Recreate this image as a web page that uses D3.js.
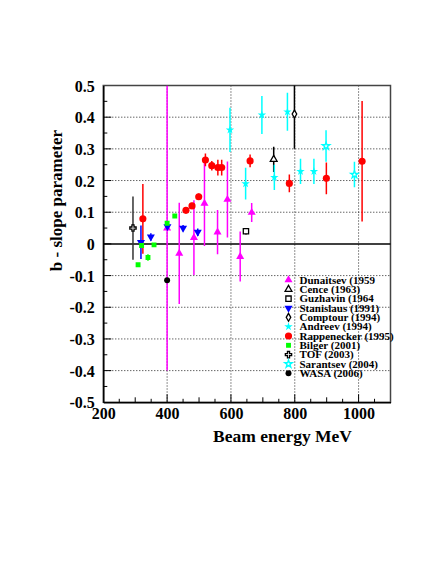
<!DOCTYPE html>
<html>
<head>
<meta charset="utf-8">
<script src="https://cdn.jsdelivr.net/npm/d3@7"></script>
<style>
  html, body { margin: 0; padding: 0; background: #fff; }
  svg { display: block; }
  text { font-family: "Liberation Serif", "Times New Roman", serif; font-weight: bold; fill: #000; }
</style>
</head>
<body>
<svg id="chart" width="436" height="564"></svg>
<script>
// ---- data: [beam energy MeV, b, error] ----
const dunaitsev   = [[400, 0.05, 0.45], [438, -0.03, 0.16], [484, 0.02, 0.118], [517, 0.128, 0.135], [558, 0.037, 0.07], [589, 0.14, 0.12], [629, -0.04, 0.079], [665, 0.099, 0.03]];
const cence       = [[734, 0.267, 0.04]];
const guzhavin    = [[647, 0.04, 0.01]];
const stanislaus  = [[318, 0.005, 0.053], [349, 0.022, 0.012], [401, 0.055, 0.012], [450, 0.05, 0.01], [496, 0.037, 0.012]];
const comptour    = [[799, 0.41, 0.11]];
const andreev     = [[597, 0.36, 0.07], [646, 0.19, 0.05], [697, 0.407, 0.06], [736, 0.21, 0.04], [777, 0.417, 0.06], [818, 0.229, 0.04], [860, 0.229, 0.04]];
const rappenecker = [[324, 0.079, 0.11], [459, 0.106, 0.008], [478, 0.12, 0.01], [499, 0.149, 0.01], [520, 0.265, 0.02], [540, 0.247, 0.015], [559, 0.241, 0.025], [571, 0.241, 0.025], [660, 0.262, 0.02], [783, 0.191, 0.028], [899, 0.207, 0.05], [1011, 0.261, 0.19]];
const bilger      = [[309, -0.066, 0], [320, -0.005, 0.008], [340, -0.043, 0.01], [359, -0.003, 0.005], [400, 0.065, 0.005], [424, 0.088, 0.005]];
const tof         = [[293, 0.05, 0.1]];
const sarantsev   = [[898, 0.309, 0.05], [987, 0.219, 0.04]];
const wasa        = [[400, -0.115, 0]];

const legendLabels = ["Dunaitsev (1959", "Cence (1963)", "Guzhavin (1964", "Stanislaus (1991)", "Comptour (1994)", "Andreev (1994)", "Rappenecker (1995)", "Bilger (2001)", "TOF (2003)", "Sarantsev (2004)", "WASA (2006)"];
const xTickValues = [200, 400, 600, 800, 1000];
const xTickLabels = ["200", "400", "600", "800", "1000"];
const yTickValues = [0.5, 0.4, 0.3, 0.2, 0.1, 0, -0.1, -0.2, -0.3, -0.4, -0.5];
const yTickLabels = ["0.5", "0.4", "0.3", "0.2", "0.1", "0", "-0.1", "-0.2", "-0.3", "-0.4", "-0.5"];
const xTitle = "Beam energy MeV";
const yTitle = "b - slope parameter";

// ---- series styling ----
const series = [
  { data: dunaitsev,   sym: d3.symbolTriangle, size: 28, fill: "#ff00ff", stroke: "none",    err: "#ff00ff", rot: 0 },
  { data: cence,       sym: d3.symbolTriangle, size: 20, fill: "#fff",    stroke: "#000",    err: "#000",    rot: 0 },
  { data: guzhavin,    sym: d3.symbolSquare,   size: 28, fill: "#fff",    stroke: "#000",    err: "#000",    rot: 0 },
  { data: stanislaus,  sym: d3.symbolTriangle, size: 28, fill: "#0000ff", stroke: "none",    err: "#0000ff", rot: 180 },
  { data: comptour,    sym: d3.symbolDiamond,  size: 18, fill: "#fff",    stroke: "#000",    err: "#000",    rot: 0 },
  { data: andreev,     sym: d3.symbolStar,     size: 22, fill: "#00ffff", stroke: "none",    err: "#00ffff", rot: 0 },
  { data: rappenecker, sym: d3.symbolCircle,   size: 40, fill: "#ff0000", stroke: "none",    err: "#ff0000", rot: 0 },
  { data: bilger,      sym: d3.symbolSquare,   size: 24, fill: "#00ff00", stroke: "none",    err: "#00ff00", rot: 0 },
  { data: tof,         sym: d3.symbolCross,    size: 22, fill: "#fff",    stroke: "#000",    err: "#333",    rot: 0 },
  { data: sarantsev,   sym: d3.symbolStar,     size: 18, fill: "#fff",    stroke: "#00ffff", err: "#00ffff", rot: 0 },
  { data: wasa,        sym: d3.symbolCircle,   size: 28, fill: "#000",    stroke: "none",    err: "#000",    rot: 0 }
];

const svg = d3.select("#chart");
const L = 103.3, R = 390.5, T = 85.5, B = 402.3;
const x = d3.scaleLinear().domain([200, 1100]).range([L, R]);
const y = d3.scaleLinear().domain([-0.5, 0.5]).range([B, T]);

svg.append("defs").append("clipPath").attr("id", "clip")
  .append("rect").attr("x", L).attr("y", T).attr("width", R - L).attr("height", B - T);

// grid
const grid = svg.append("g");
grid.selectAll(".gx").data([400, 600, 800, 1000]).join("line")
  .attr("x1", d => x(d)).attr("x2", d => x(d)).attr("y1", T).attr("y2", B)
  .attr("stroke", "#222").attr("stroke-width", 1).attr("stroke-dasharray", "1,2");
grid.selectAll(".gy").data([0.4, 0.3, 0.2, 0.1, -0.1, -0.2, -0.3, -0.4]).join("line")
  .attr("x1", L).attr("x2", R).attr("y1", d => y(d)).attr("y2", d => y(d))
  .attr("stroke", "#222").attr("stroke-width", 1).attr("stroke-dasharray", "1,2");

// frame
svg.append("rect").attr("x", L).attr("y", T).attr("width", R - L).attr("height", B - T)
  .attr("fill", "none").attr("stroke", "#444").attr("stroke-width", 1.5);

// zero line
svg.append("line").attr("x1", L).attr("x2", R).attr("y1", y(0)).attr("y2", y(0))
  .attr("stroke", "#000").attr("stroke-width", 1.5);

// axes
const xAxis = d3.axisBottom(x).tickValues(xTickValues).tickFormat((d, i) => xTickLabels[i]).tickSize(0).tickPadding(0);
const gx = svg.append("g").attr("transform", `translate(0,${B})`).call(xAxis);
gx.select(".domain").attr("stroke", "#000").attr("stroke-width", 1.5);
gx.selectAll("text").attr("y", 16.5).attr("dy", 0).style("font-size", "16px")
  .style("font-family", '"Liberation Serif", serif').style("font-weight", "bold");

const yAxis = d3.axisLeft(y).tickValues(yTickValues).tickFormat((d, i) => yTickLabels[i]).tickSize(0).tickPadding(0);
const gy = svg.append("g").attr("transform", `translate(${L},0)`).call(yAxis);
gy.select(".domain").attr("stroke", "#000").attr("stroke-width", 1.5);
gy.selectAll("text").attr("x", -8.5).attr("dy", "0.35em").style("font-size", "16px")
  .style("font-family", '"Liberation Serif", serif').style("font-weight", "bold");

// inward tick marks
const ticks = svg.append("g").attr("stroke", "#000").attr("stroke-width", 1);
ticks.selectAll(".xt").data(d3.range(250, 1100, 50)).join("line")
  .attr("x1", d => x(d)).attr("x2", d => x(d)).attr("y1", B)
  .attr("y2", d => B - (d % 200 === 0 ? 8 : (d % 100 === 0 ? 5 : 3.5)));
ticks.selectAll(".yt").data(d3.range(-0.45, 0.5, 0.05)).join("line")
  .attr("y1", d => y(d)).attr("y2", d => y(d)).attr("x1", L)
  .attr("x2", d => L + (Math.abs(Math.round(d * 100)) % 10 === 0 ? 8 : 4));

// titles
svg.append("text").attr("x", 352).attr("y", 442).attr("text-anchor", "end")
  .style("font-size", "17.5px").text(xTitle);
svg.append("text").attr("transform", "translate(62,130) rotate(-90)").attr("text-anchor", "end")
  .style("font-size", "17px").text(yTitle);

// data
const plot = svg.append("g").attr("clip-path", "url(#clip)");
series.forEach(s => {
  const g = plot.append("g");
  g.selectAll("line").data(s.data.filter(d => d[2] > 0)).join("line")
    .attr("x1", d => x(d[0])).attr("x2", d => x(d[0]))
    .attr("y1", d => y(d[1] - d[2])).attr("y2", d => y(d[1] + d[2]))
    .attr("stroke", s.err).attr("stroke-width", 1.5);
});
series.forEach(s => {
  const g = plot.append("g");
  g.selectAll("path").data(s.data).join("path")
    .attr("d", d3.symbol().type(s.sym).size(s.size))
    .attr("transform", d => `translate(${x(d[0])},${y(d[1])}) rotate(${s.rot})`)
    .attr("fill", s.fill).attr("stroke", s.stroke).attr("stroke-width", 1.3);
});

// legend
const leg = svg.append("g");
series.forEach((s, i) => {
  const cy = 280 + i * 9.33;
  leg.append("path").attr("d", d3.symbol().type(s.sym).size(s.size))
    .attr("transform", `translate(288.5,${cy}) rotate(${s.rot})`)
    .attr("fill", s.fill).attr("stroke", s.stroke).attr("stroke-width", 1.3);
  leg.append("text").attr("x", 299.5).attr("y", cy + 3.8).style("font-size", "11px").text(legendLabels[i]);
});
</script>
</body>
</html>
